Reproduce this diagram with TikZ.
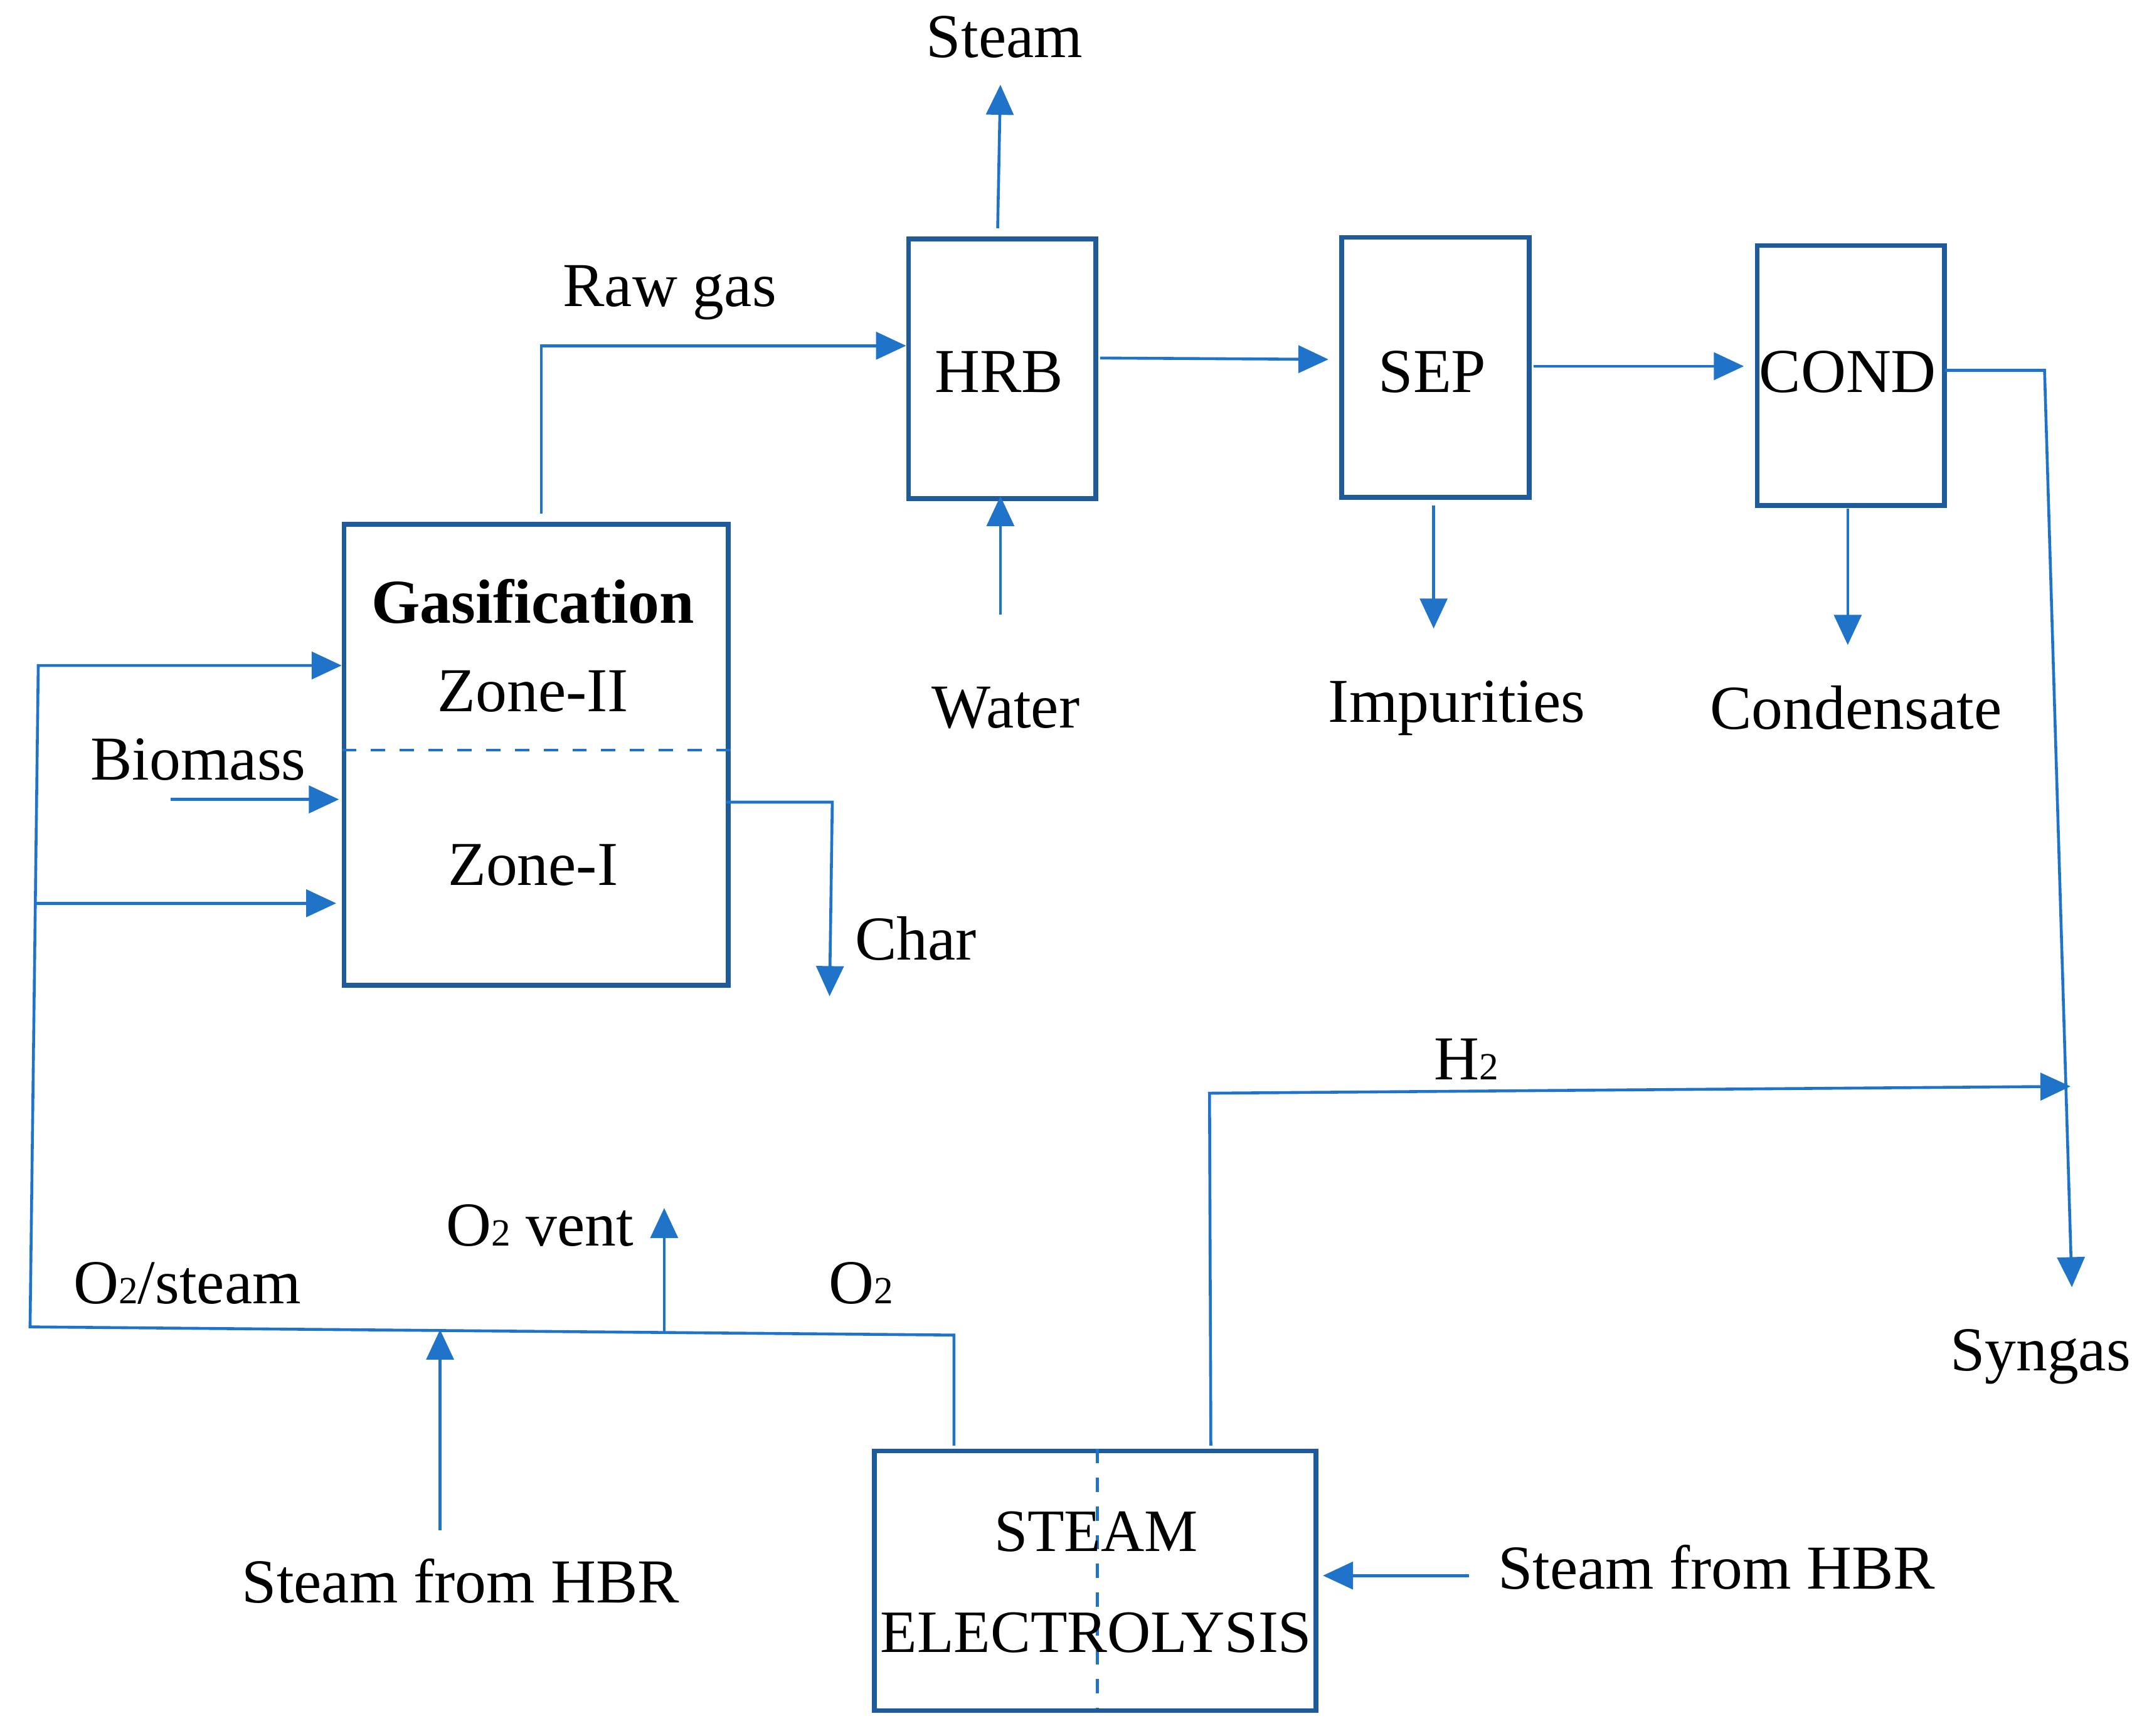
\documentclass[tikz,border=0pt]{standalone}
\usepackage{fontspec}
\setmainfont{Liberation Serif}
\usetikzlibrary{positioning,arrows.meta}
\definecolor{flow}{HTML}{1F73C8}
\definecolor{unit}{HTML}{1F5A9A}
\begin{document}
\begin{tikzpicture}[x=0.01cm,y=-0.01cm,
    unit/.style={rectangle, draw=unit, line width=1pt, anchor=north west, inner sep=0pt},
    line/.style={draw=flow, line width=0.6pt},
    arr/.style={line, -{Triangle[length=2.2mm,width=2mm]}},
    lbl/.style={font=\fontsize{13}{15}\selectfont, inner sep=0pt}
]
\useasboundingbox (0,0) rectangle (1560,1270);
% units
\node (Gas) [unit, minimum width=2.81cm, minimum height=3.37cm] at (250,382) {};
\node (HRB) [unit, minimum width=1.37cm, minimum height=1.90cm] at (663,173) {};
\node (SEP) [unit, minimum width=1.37cm, minimum height=1.90cm] at (980,172) {};
\node (COND) [unit, minimum width=1.37cm, minimum height=1.90cm] at (1284,178) {};
\node (Elec) [unit, minimum width=3.23cm, minimum height=1.90cm] at (638,1060) {};
\draw [line, dashed] (250,549) -- (538,549);
\draw [line, dashed] (803,1060) -- (803,1250);
% texts
\node [lbl] at (390,440) {\textbf{Gasification}};
\node [lbl] at (390,506) {Zone-II};
\node [lbl] at (390,633) {Zone-I};
\node [lbl] at (731,272) {HRB};
\node [lbl] at (1048,272) {SEP};
\node [lbl] at (1352,272) {COND};
\node [lbl, align=center, font=\fontsize{12.5}{15}\selectfont] at (802,1158) {STEAM\\[6pt]ELECTROLYSIS};
\node (tSteam) [lbl] at (735,27) {Steam};
\node (tRaw) [lbl] at (490,214) {Raw gas};
\node (tWater) [lbl] at (736,518) {Water};
\node (tImp) [lbl] at (1066,518) {Impurities};
\node (tCond) [lbl] at (1358,518) {Condensate};
\node (tBio) [lbl] at (145,556) {Biomass};
\node (tChar) [lbl] at (670,687) {Char};
\node (tH2) [lbl] at (1073,775) {H{\footnotesize 2}};
\node (tVent) [lbl] at (395,897) {O{\footnotesize 2} vent};
\node (tO2s) [lbl] at (137,939) {O{\footnotesize 2}/steam};
\node (tO2) [lbl] at (630,939) {O{\footnotesize 2}};
\node (tSyn) [lbl] at (1493,993) {Syngas};
\node (tSteamA) [lbl] at (337,1157) {Steam from HBR};
\node (tSteamB) [lbl] at (1256,1147) {Steam from HBR};
% flows
\coordinate (g1) at (396,376);
\draw [arr] (g1) |- (663,253);
\draw [arr] (730,167) -- (732,62);
\draw [arr] (732,450) -- (732,363);
\draw [arr] (805,262) -- (972,263);
\draw [arr] (1122,268) -- (1276,268);
\draw [arr] (1049,370) -- (1049,460);
\draw [arr] (1352,372) -- (1352,472);
\draw [arr] (1423,271) -- (1496,271) -- (1516,942);
\draw [arr] (531,587) -- (609,587) -- (607,729);
\draw [arr] (125,585) -- (248,585);
\draw [arr] (698,1058) -- (698,977) -- (22,971) -- (28,487) -- (250,487);
\draw [arr] (26,661) -- (246,661);
\draw [arr] (486,975) -- (486,884);
\draw [arr] (322,1120) -- (322,973);
\draw [arr] (886,1058) -- (885,800) -- (1515,795);
\draw [arr] (1075,1153) -- (968,1153);
\end{tikzpicture}
\end{document}
